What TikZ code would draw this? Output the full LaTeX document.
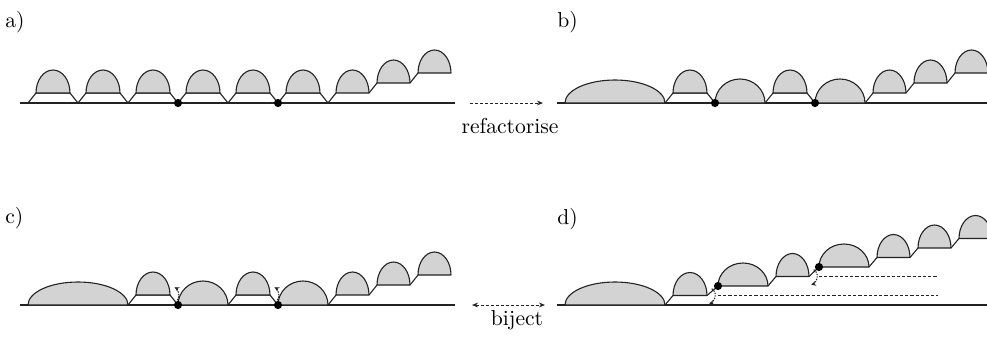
\documentclass[tikz,border=0pt]{standalone}
\usetikzlibrary{arrows.meta}
\definecolor{domefill}{RGB}{211,211,211}
\definecolor{ink}{RGB}{35,35,35}
\tikzset{
  ln/.style={draw=ink,line width=0.55pt,line join=round},
  domestyle/.style={ln,fill=domefill},
  dotn/.style={circle,fill=black,inner sep=0pt,minimum size=4.1pt},
  maparrow/.style={draw=ink,line width=0.45pt,dash pattern=on 1.5pt off 1pt},
  guide/.style={draw=ink,line width=0.45pt,dash pattern=on 1.6pt off 1pt},
  rotarrow/.style={draw=ink,line width=0.5pt,dash pattern=on 0.7pt off 0.6pt,-{Stealth[length=2.4pt,width=2.4pt]}},
  lab/.style={inner sep=0pt,anchor=base west,font=\fontsize{10.8}{13}\selectfont},
  captext/.style={inner sep=0pt,anchor=base,font=\fontsize{10.8}{13}\selectfont},
}
% dome: x0, x1, base y, height (px)
\newcommand\mydome[4]{\filldraw[domestyle] (#1,#3) arc[start angle=180,end angle=0,x radius={((#2)-(#1))*0.25pt},y radius={(#4)*0.5pt}] -- cycle;}
% bump: left x, baseline y, top y
\newcommand\mybump[3]{\draw[ln] (#1,#2) -- (#1+8,#3) -- (#1+42,#3) -- (#1+50,#2);\mydome{#1+8}{#1+42}{#3}{23}}
\begin{document}
\begin{tikzpicture}[x=0.5pt,y=-0.5pt]
\useasboundingbox (0,0) rectangle (987,338);
% ---------- labels
\node[lab] (la) at (5,27) {a)};
\node[lab] (lb) at (557,27) {b)};
\node[lab] (lc) at (5,223) {c)};
\node[lab] (ld) at (557,224) {d)};
% ---------- panel a
\draw[ln] (20,103) -- (455,103);
\foreach \x in {28,78,128,178,228,278} {\mybump{\x}{103}{93}}
\draw[ln] (328,103) -- (336,93); \mydome{336}{369}{93}{23}
\draw[ln] (369,93) -- (377,83); \mydome{377}{410}{83}{23}
\draw[ln] (410,83) -- (418,73); \mydome{418}{451}{73}{23}
\node[dotn] (a1) at (178,103) {};
\node[dotn] (a2) at (278,103) {};
% ---------- arrow refactorise
\coordinate (r1) at (470,103);
\coordinate (r2) at (543,103);
\draw[maparrow,-{Stealth[length=3pt,width=2.4pt]}] (r1) -- (r2);
\node[captext] (rf) at (510,133) {refactorise};
% ---------- panel b
\draw[ln] (557,103) -- (987,103);
\mydome{565}{665}{103}{23}
\mybump{665}{103}{93}
\mydome{715}{765}{103}{24}
\mybump{765}{103}{93}
\mydome{815}{865}{103}{24}
\draw[ln] (865,103) -- (873,93); \mydome{873}{906}{93}{23}
\draw[ln] (906,93) -- (914,83); \mydome{914}{947}{83}{23}
\draw[ln] (947,83) -- (955,73); \mydome{955}{988}{73}{23}
\node[dotn] (b1) at (715,103) {};
\node[dotn] (b2) at (815,103) {};
% ---------- panel c
\draw[ln] (20,305) -- (455,305);
\mydome{28}{128}{305}{23}
\mybump{128}{305}{295}
\mydome{178}{228}{305}{24}
\mybump{228}{305}{295}
\mydome{278}{328}{305}{24}
\draw[ln] (328,305) -- (336,295); \mydome{336}{369}{295}{23}
\draw[ln] (369,295) -- (377,285); \mydome{377}{410}{285}{23}
\draw[ln] (410,285) -- (418,275); \mydome{418}{451}{275}{23}
\coordinate (cp1) at (170,295);
\coordinate (cp2) at (270,295);
\draw[rotarrow] (cp1) ++(-35:4.5pt) arc[start angle=-35,end angle=60,radius=4.5pt];
\draw[rotarrow] (cp2) ++(-35:4.5pt) arc[start angle=-35,end angle=60,radius=4.5pt];
\node[dotn] (c1) at (178,305) {};
\node[dotn] (c2) at (278,305) {};
% ---------- arrow biject
\coordinate (j1) at (472,305);
\coordinate (j2) at (545,305);
\draw[maparrow,{Stealth[length=3pt,width=2.4pt]}-{Stealth[length=3pt,width=2.4pt]}] (j1) -- (j2);
\node[captext] (bj) at (517,325) {biject};
% ---------- panel d
\draw[ln] (557,305) -- (987,305);
\mydome{565}{665}{305}{23}
\draw[ln] (665,305) -- (673,295.5); \mydome{673}{707}{295.5}{23}
\draw[ln] (707,295.5) -- (718,286);
\mydome{718}{768}{286}{23}
\draw[ln] (768,286) -- (776,276.5); \mydome{776}{809}{276.5}{23}
\draw[ln] (809,276.5) -- (819,267);
\mydome{819}{869}{267}{23}
\draw[ln] (869,267) -- (877,257.5); \mydome{877}{910}{257.5}{23}
\draw[ln] (910,257.5) -- (918,248); \mydome{918}{951}{248}{23}
\draw[ln] (951,248) -- (959,238.5); \mydome{959}{992}{238.5}{23}
\coordinate (g1s) at (718,295.5);
\coordinate (g1e) at (938,295.5);
\coordinate (g2s) at (819,276.5);
\coordinate (g2e) at (938,276.5);
\draw[guide] (g1s) -- (g1e);
\draw[guide] (g2s) -- (g2e);
\coordinate (dp1) at (707,295.5);
\coordinate (dp2) at (809,276.5);
\draw[rotarrow] (dp1) ++(55:4.2pt) arc[start angle=55,end angle=-75,radius=4.2pt];
\draw[rotarrow] (dp2) ++(55:4.2pt) arc[start angle=55,end angle=-75,radius=4.2pt];
\node[dotn] (d1) at (718,286) {};
\node[dotn] (d2) at (819,267) {};
\end{tikzpicture}
\end{document}
